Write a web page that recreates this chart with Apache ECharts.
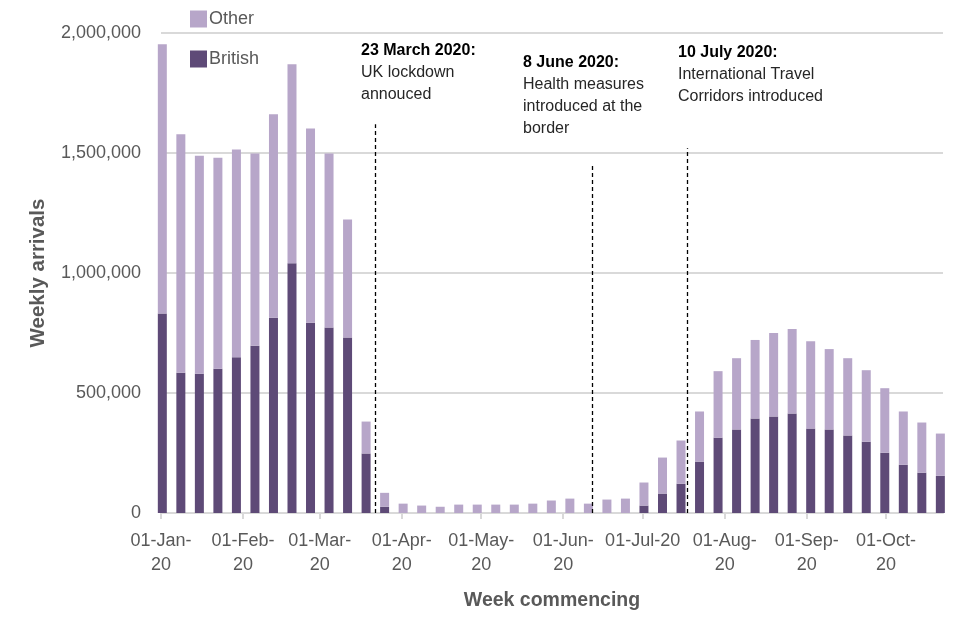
<!DOCTYPE html>
<html>
<head>
<meta charset="utf-8">
<title>Weekly arrivals</title>
<script src="https://cdn.jsdelivr.net/npm/echarts@6/dist/echarts.min.js"></script>
<style>
  html, body { margin: 0; padding: 0; background: #fff; }
  #chart { width: 960px; height: 640px; }
</style>
</head>
<body>
<div id="chart"></div>
<script>
// week commencing dates
var weeks = [
  '2020-01-01', '2020-01-08', '2020-01-15', '2020-01-22', '2020-01-29',
  '2020-02-05', '2020-02-12', '2020-02-19', '2020-02-26',
  '2020-03-04', '2020-03-11', '2020-03-18', '2020-03-25',
  '2020-04-01', '2020-04-08', '2020-04-15', '2020-04-22', '2020-04-29',
  '2020-05-06', '2020-05-13', '2020-05-20', '2020-05-27',
  '2020-06-03', '2020-06-10', '2020-06-17', '2020-06-24',
  '2020-07-01', '2020-07-08', '2020-07-15', '2020-07-22', '2020-07-29',
  '2020-08-05', '2020-08-12', '2020-08-19', '2020-08-26',
  '2020-09-02', '2020-09-09', '2020-09-16', '2020-09-23', '2020-09-30',
  '2020-10-07', '2020-10-14', '2020-10-21'
];

var british = [
  831000, 584000, 580000, 601000, 649000, 697000, 814000, 1041000, 793000,
  773000, 731000, 248000, 26000,
  0, 0, 0, 0, 0, 0, 0, 0, 0, 0, 0, 0, 0,
  31000, 81000, 122000, 214000, 314000, 348000, 394000, 402000, 415000,
  352000, 348000, 323000, 297000, 251000, 201000, 168000, 155000
];

var other = [
  1122000, 994000, 909000, 879000, 866000, 801000, 847000, 829000, 809000,
  725000, 492000, 133000, 58000,
  39000, 31000, 26000, 35000, 35000, 35000, 35000, 39000, 52000, 60000, 39000, 56000, 60000,
  96000, 150000, 180000, 209000, 277000, 297000, 327000, 348000, 352000,
  364000, 335000, 322000, 298000, 269000, 222000, 209000, 176000
];

// x ticks: first of each month, and their labels
var monthStarts = [
  '2020-01-01', '2020-02-01', '2020-03-01', '2020-04-01', '2020-05-01',
  '2020-06-01', '2020-07-01', '2020-08-01', '2020-09-01', '2020-10-01'
];
var tickLabels = [
  '01-Jan-\n20', '01-Feb-\n20', '01-Mar-\n20', '01-Apr-\n20', '01-May-\n20',
  '01-Jun-\n20', '01-Jul-20', '01-Aug-\n20', '01-Sep-\n20', '01-Oct-\n20'
];

// dashed event lines: where they sit and how tall they are
var eventDates = ['2020-03-22', '2020-06-12', '2020-07-18'];
var eventTops = [1620000, 1450000, 1520000];

var DAY = 24 * 3600 * 1000;
var START = Date.parse('2020-01-01');
var grey = '#595959';
var font = 'Liberation Sans';

// days since 1 Jan 2020
function dayOf(d) {
  return Math.round((Date.parse(d) - START) / DAY);
}

var tickDays = monthStarts.map(dayOf);

// value first so that the stack runs on y
function toPoints(values) {
  return values.map(function (v, i) {
    return [v, dayOf(weeks[i]) + 0.5];
  });
}

var chart = echarts.init(document.getElementById('chart'));

var boldLine = { fontSize: 16, fontFamily: font, fontWeight: 'bold', fill: '#000', lineHeight: 22 };

var option = {
  animation: false,
  textStyle: { fontFamily: font },
  grid: { left: 161, right: 17, top: 33, bottom: 127 },
  legend: {
    data: ['Other', 'British'],
    orient: 'vertical',
    left: 190,
    top: 10,
    padding: 0,
    itemWidth: 17,
    itemHeight: 17,
    itemGap: 22,
    icon: 'rect',
    textStyle: { color: grey, fontSize: 18, fontFamily: font, padding: [0, 0, 0, -3] }
  },
  xAxis: {
    type: 'value',
    min: 0,
    max: 295.5,
    name: 'Week commencing',
    nameLocation: 'middle',
    nameGap: 78,
    nameTextStyle: { color: grey, fontSize: 19.5, fontWeight: 'bold', fontFamily: font },
    axisLine: { lineStyle: { color: '#d9d9d9', width: 2 } },
    axisTick: { show: true, length: 6, customValues: tickDays, lineStyle: { color: '#d9d9d9', width: 2 } },
    splitLine: { show: false },
    axisLabel: {
      color: grey,
      fontSize: 18,
      lineHeight: 24,
      margin: 16,
      customValues: tickDays,
      formatter: function (value) {
        var i = tickDays.indexOf(Math.round(value));
        return i < 0 ? '' : tickLabels[i];
      }
    }
  },
  yAxis: {
    type: 'value',
    min: 0,
    max: 2000000,
    interval: 500000,
    name: 'Weekly arrivals',
    nameLocation: 'middle',
    nameGap: 112,
    nameTextStyle: { color: grey, fontSize: 20.5, fontWeight: 'bold', fontFamily: font },
    axisLine: { show: false },
    axisTick: { show: false },
    splitLine: { lineStyle: { color: '#d9d9d9', width: 2 } },
    axisLabel: {
      color: grey,
      fontSize: 18,
      margin: 20,
      formatter: function (v) {
        return v.toString().replace(/\B(?=(\d{3})+(?!\d))/g, ',');
      }
    }
  },
  series: [
    {
      name: 'British',
      type: 'bar',
      stack: 'arrivals',
      barWidth: 9,
      encode: { x: 1, y: 0 },
      itemStyle: { color: '#5e4a77' },
      data: toPoints(british)
    },
    {
      name: 'Other',
      type: 'bar',
      stack: 'arrivals',
      barWidth: 9,
      encode: { x: 1, y: 0 },
      itemStyle: { color: '#b7a6c9' },
      data: toPoints(other)
    },
    {
      name: 'events',
      type: 'line',
      data: [],
      silent: true,
      markLine: {
        silent: true,
        symbol: 'none',
        label: { show: false },
        lineStyle: { color: '#000', type: [4, 3], width: 1.3 },
        data: eventDates.map(function (d, i) {
          return [{ coord: [dayOf(d), 0] }, { coord: [dayOf(d), eventTops[i]] }];
        })
      }
    }
  ],
  graphic: [
    {
      type: 'text', left: 361, top: 40,
      style: {
        text: '{b|23 March 2020:}\nUK lockdown\nannouced',
        fontSize: 16, fontFamily: font, fill: '#262626', lineHeight: 22,
        rich: { b: boldLine }
      }
    },
    {
      type: 'text', left: 523, top: 52,
      style: {
        text: '{b|8 June 2020:}\nHealth measures\nintroduced at the\nborder',
        fontSize: 16, fontFamily: font, fill: '#262626', lineHeight: 22,
        rich: { b: boldLine }
      }
    },
    {
      type: 'text', left: 678, top: 42,
      style: {
        text: '{b|10 July 2020:}\nInternational Travel\nCorridors introduced',
        fontSize: 16, fontFamily: font, fill: '#262626', lineHeight: 22,
        rich: { b: boldLine }
      }
    }
  ]
};

chart.setOption(option);
</script>
</body>
</html>
